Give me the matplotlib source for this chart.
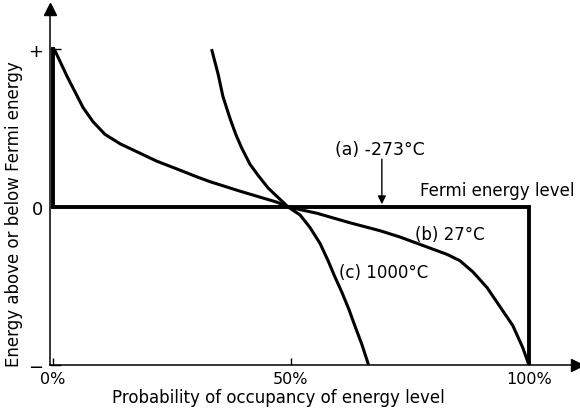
import matplotlib
matplotlib.use('Agg')
import matplotlib.pyplot as plt

# occupancy (%) vs energy (+1 above Fermi, -1 below)
occ_a = [0, 0, 100, 100]
energy_a = [1.0, 0.0, 0.0, -1.0]

occ_b = [0.4, 1.5, 2.9, 4.6, 6.3, 8.4, 10.9, 14.1, 17.6, 21.8, 26.1, 30.3, 33.0,
         39.3, 47.1, 49.4, 55.5, 62.4, 68.7, 72.9, 75.6, 82.8, 85.5, 88.2, 91.2, 93.9,
         96.6, 98.7, 100.0]
energy_b = [0.99, 0.92, 0.83, 0.73, 0.63, 0.54, 0.46, 0.40, 0.35, 0.29, 0.24, 0.19, 0.16,
            0.10, 0.03, 0.0, -0.04, -0.10, -0.15, -0.19, -0.22, -0.30, -0.34, -0.41, -0.51, -0.63,
            -0.75, -0.89, -1.0]

occ_c = [33.4, 34.7, 35.7, 37.2, 38.4, 39.7, 41.4, 43.1, 45.2, 47.3, 49.4, 51.9, 54.0,
         56.1, 57.8, 59.2, 60.7, 62.2, 63.4, 64.9, 66.2]
energy_c = [0.99, 0.84, 0.70, 0.56, 0.46, 0.37, 0.27, 0.20, 0.12, 0.06, 0.0, -0.05, -0.13,
            -0.23, -0.34, -0.44, -0.54, -0.65, -0.75, -0.87, -0.99]

x_ticks = [0, 50, 100]
x_labels = ['0%', '50%', '100%']
y_ticks = [1, 0, -1]
y_labels = ['+', '0', '\u2212']

fig = plt.figure(figsize=(5.8, 4.1), dpi=100)
ax = fig.add_axes([50/580, 44/410, 527/580, 356/410])
ax.set_xlim(-0.63, 110.1)
ax.set_ylim(-1.0, 1.253)

ax.plot(occ_a, energy_a, color='k', lw=2.8, solid_joinstyle='miter')
ax.plot(occ_b, energy_b, color='k', lw=2.2, solid_joinstyle='round')
ax.plot(occ_c, energy_c, color='k', lw=2.2, solid_joinstyle='round')

for s in ['top', 'right']:
    ax.spines[s].set_visible(False)
for s in ['left', 'bottom']:
    ax.spines[s].set_linewidth(1.1)

# arrow heads on the axes
ax.plot(0, 1, '^k', ms=9, transform=ax.transAxes, clip_on=False)
ax.plot(1, 0, '>k', ms=9, transform=ax.transAxes, clip_on=False)

ax.set_xticks(x_ticks)
ax.set_xticklabels(x_labels, fontsize=11.5)
ax.set_yticks(y_ticks)
ax.set_yticklabels(y_labels, fontsize=13)
ax.tick_params(axis='x', direction='in', length=5, width=1, pad=4)
ax.tick_params(axis='y', direction='in', length=8, width=1, pad=5)

ax.set_xlabel('Probability of occupancy of energy level', fontsize=12)
ax.set_ylabel('Energy above or below Fermi energy', fontsize=12)
ax.xaxis.set_label_coords(0.433, -0.066)
ax.yaxis.set_label_coords(-0.052, 0.427)

ax.text(59.2, 0.37, '(a) -273\u00b0C', fontsize=12.5, va='center', ha='left')
ax.annotate('', xy=(69.1, 0.0), xytext=(69.1, 0.32),
            arrowprops=dict(arrowstyle='-|>', color='k', lw=1, mutation_scale=12))
ax.text(77.1, 0.11, 'Fermi energy level', fontsize=12, va='center', ha='left')
ax.text(76.0, -0.17, '(b) 27\u00b0C', fontsize=12, va='center', ha='left')
ax.text(60.1, -0.41, '(c) 1000\u00b0C', fontsize=12, va='center', ha='left')

fig.savefig('out.png', dpi=100)
